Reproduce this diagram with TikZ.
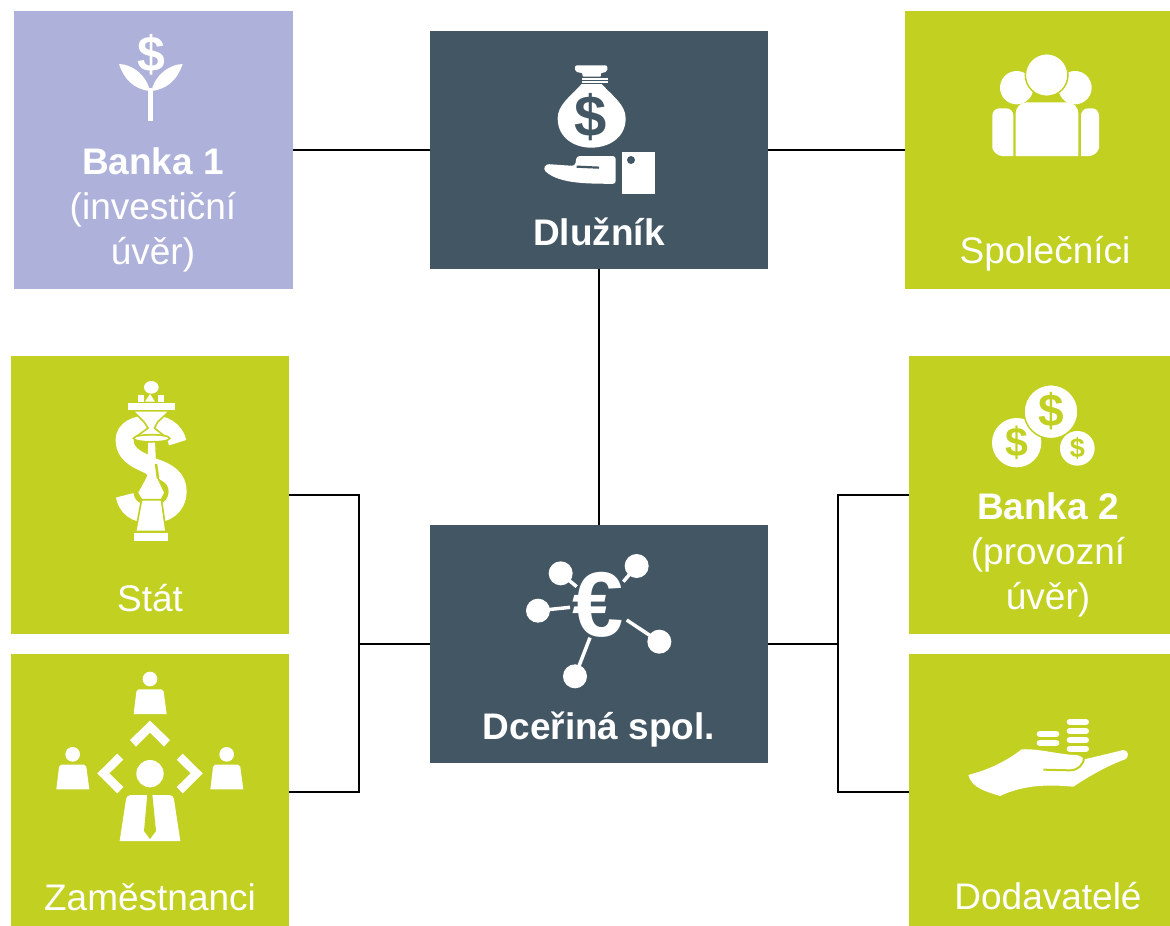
\documentclass[tikz,border=0pt]{standalone}
\usepackage{tikz}
\usepackage{xcolor}
\usepackage{fontspec}
\setmainfont{Liberation Sans}
\usetikzlibrary{positioning}
\definecolor{tilelime}{RGB}{193,208,33}
\definecolor{tiledark}{RGB}{67,86,99}
\definecolor{tilelav}{RGB}{174,177,218}

\begin{document}
\begin{tikzpicture}[x=1pt,y=-1pt]
      \tikzstyle{tile} = [rectangle, inner sep=0pt, minimum width=261pt, minimum height=278pt]
      \tikzstyle{centre} = [tile, fill=tiledark, minimum width=338pt, minimum height=238pt]
      \tikzstyle{lime} = [tile, fill=tilelime]
      \tikzstyle{caption} = [text=white, align=center, inner sep=0pt, font=\fontsize{37}{45}\selectfont]
      \tikzstyle{conn} = [draw=black, line width=1.2pt]
      \tikzstyle{sign} = [inner sep=0pt]
      \tikzstyle{chess} = [fill=white, preaction={draw=tilelime, line width=3.5pt}]

      \useasboundingbox (0,0) rectangle (1170,926);

      \node[tile, fill=tilelav, minimum width=279pt] (banka1) at (153.5,150) {};
      \node[centre] (dluznik) at (599,150) {};
      \node[lime, minimum width=265pt] (spolecnici) at (1037.5,150) {};
      \node[lime, minimum width=278pt] (stat) at (150,495) {};
      \node[lime, minimum width=278pt, minimum height=272pt] (zamestnanci) at (150,790) {};
      \node[centre] (dcerina) at (599,644) {};
      \node[lime] (banka2) at (1039.5,495) {};
      \node[lime, minimum height=272pt] (dodavatele) at (1039.5,790) {};

      \coordinate (jleft) at (359,644);
      \coordinate (jright) at (838,644);

      \draw[conn] (banka1) -- (dluznik);
      \draw[conn] (dluznik) -- (spolecnici);
      \draw[conn] (dluznik) -- (dcerina);
      \draw[conn] (stat) -| (jleft);
      \draw[conn] ([yshift=-2pt]zamestnanci.east) -| (jleft);
      \draw[conn] (jleft) -- (dcerina);
      \draw[conn] (banka2) -| (jright);
      \draw[conn] ([yshift=-2pt]dodavatele.west) -| (jright);
      \draw[conn] (jright) -- (dcerina);

      \node[caption] (tbanka1) at (153,210) {\textbf{Banka 1}\\(investiční\\úvěr)};
      \node[caption] (tdluznik) at (599,232) {\textbf{Dlužník}};
      \node[caption] (tspolecnici) at (1045,254) {Společníci};
      \node[caption] (tstat) at (150,598) {Stát};
      \node[caption] (tzamestnanci) at (150,897) {Zaměstnanci};
      \node[caption] (tdcerina) at (599,730) {\textbf{Dceřiná spol.}};
      \node[caption] (tbanka2) at (1048,555) {\textbf{Banka 2}\\(provozní\\úvěr)};
      \node[caption] (tdodavatele) at (1048,896) {Dodavatelé};

      \begin{scope}[shift={(10,10)},scale=1/3]
        \fill[white] (414,235) rectangle (430,332);
        \fill[white] (327,162) .. controls (365,163) and (408,192) .. (420,243) .. controls (372,238) and (342,208) .. (327,162);
        \fill[white] (518,162) .. controls (480,163) and (437,192) .. (424,243) .. controls (472,238) and (503,208) .. (518,162);
        \node[sign, text=white, font=\fontsize{50}{50}\bfseries\selectfont] (plantdollar) at (423,135) {\$};
      \end{scope}

      \begin{scope}[shift={(520,50)},scale=1/3]
        \fill[white, rounded corners=2pt] (165,46) -- (262,46) -- (262,65) -- (240,70) -- (245,80) -- (185,80) -- (190,70) -- (165,65) -- cycle;
        \fill[white] (185,84) rectangle (265,89);
        \fill[white] (185,93) rectangle (265,98);
        \fill[white] (185,102) .. controls (150,140) and (113,165) .. (113,205) .. controls (113,265) and (165,293) .. (213,293) .. controls (265,293) and (317,265) .. (317,205) .. controls (317,165) and (280,140) .. (245,102) -- cycle;
        \node[sign, text=tiledark, font=\fontsize{58}{58}\bfseries\selectfont] (bagdollar) at (213,200) {\$};
        \fill[white, rounded corners=3pt] (170,318) -- (287,318) -- (287,402) .. controls (220,400) and (120,405) .. (70,358) -- (78,342) -- (165,348) -- cycle;
        \draw[tiledark, line width=2.2pt] (170,350) -- (237,353);
        \fill[white] (306,307) rectangle (406,432);
        \fill[tiledark] (333,330) circle (12);
      \end{scope}

      \begin{scope}[shift={(980,40)},scale=1/3]
        \fill[white] (37,325) [rounded corners=7pt] -- (37,205) -- (100,205) [sharp corners] -- (100,348) -- (65,348) .. controls (52,346) and (42,338) .. (37,325);
        \fill[white] (303,348) [rounded corners=7pt] -- (303,205) -- (357,205) [sharp corners] -- (357,325) .. controls (352,338) and (342,346) .. (330,348) -- cycle;
        \fill[white] (110,143) circle (50);
        \fill[white] (285,143) circle (50);
        \fill[white, draw=tilelime, line width=1.5pt] (200,105) circle (64);
        \fill[white] (107,348) [rounded corners=11pt] -- (107,187) -- (295,187) [sharp corners] -- (295,348) -- cycle;
      \end{scope}

      \begin{scope}[shift={(90,370)},scale=1/3]
        \draw[white, line width=18pt] (263,218) .. controls (255,180) and (220,162) .. (185,162) .. controls (135,162) and (104,180) .. (104,210) .. controls (104,265) and (165,275) .. (185,290) .. controls (235,305) and (263,325) .. (263,365) .. controls (263,410) and (225,433) .. (185,433) .. controls (135,433) and (110,410) .. (104,376);
        \path[chess] (145,368) -- (170,322) -- (200,322) -- (222,368) -- (212,388) -- (157,388) -- cycle;
        \fill[white] (175,215) -- (195,215) -- (200,325) -- (170,325) -- cycle;
        \draw[tilelime, line width=2.5pt] (198,282) -- (204,325);
        \path[chess] (157,392) -- (212,392) -- (225,482) -- (140,482) -- cycle;
        \fill[white] (132,490) rectangle (233,512);
        \path[chess] (135,125) -- (232,125) -- (200,155) -- (190,175) -- (215,195) -- (150,195) -- (178,175) -- (165,155) -- cycle;
        \path[chess] (185,205) ellipse (50 and 8);
        \fill[white] (114,100) rectangle (255,119);
        \fill[white] (145,75) rectangle (163,95);
        \fill[white] (204,75) rectangle (222,95);
        \fill[white] (165,95) -- (180,72) -- (195,95) -- cycle;
        \fill[white] (184,52) ellipse (22 and 19);
      \end{scope}

      \begin{scope}[shift={(40,660)},scale=1/3]
        \foreach \hx/\hy in {330/57,98/283,560/283} {
          \fill[white] (\hx,\hy) circle (22);
          \fill[white] ({\hx-49},{\hy+105}) [rounded corners=2pt] -- ({\hx-40},{\hy+31}) -- ({\hx+40},{\hy+31}) [sharp corners] -- ({\hx+50},{\hy+105}) -- cycle;
        }
        \fill[white] (270,240) -- (330,182) -- (390,240) -- (372,260) -- (330,218) -- (288,260) -- cycle;
        \fill[white] (172,340) -- (232,281) -- (250,299) -- (208,340) -- (250,381) -- (232,400) -- cycle;
        \fill[white] (488,340) -- (428,281) -- (410,299) -- (452,340) -- (410,381) -- (428,400) -- cycle;
        \fill[white] (330,341) circle (41);
        \fill[white] (239,543) [rounded corners=4pt] -- (260,405) -- (400,405) [sharp corners] -- (421,543) -- cycle;
        \fill[tilelime] (322,403) -- (337,403) -- (348,513) -- (330,537) -- (312,513) -- cycle;
      \end{scope}

      \begin{scope}[shift={(515,545)},scale=1/3]
        \foreach \cx/\cy/\ex/\ey in {137/85/185/125,365/63/325/110,69/197/165/187,433/290/335/225,180/394/225/278} {
          \fill[white] (\cx,\cy) circle (36);
          \draw[white, line width=3.5pt] (\cx,\cy) -- (\ex,\ey);
        }
        \node[sign, text=white, font=\fontsize{92}{92}\bfseries\selectfont] (euro) at (250,180) {€};
      \end{scope}

      \begin{scope}[shift={(980,375)},scale=1/3]
        \fill[white] (110,203) circle (74);
        \fill[white, draw=tilelime, line width=1.5pt] (213,110) circle (81);
        \fill[white] (292,220) circle (52);
        \node[sign, text=tilelime, font=\fontsize{46}{46}\bfseries\selectfont] (coinbig) at (213,108) {\$};
        \node[sign, text=tilelime, font=\fontsize{41}{41}\bfseries\selectfont] (coinleft) at (110,202) {\$};
        \node[sign, text=tilelime, font=\fontsize{27}{27}\bfseries\selectfont] (coinsmall) at (292,220) {\$};
      \end{scope}

      \begin{scope}[shift={(960,710)},scale=1/3]
        \foreach \sy in {36,63,90,116} {
          \draw[white, line width=6pt, line cap=round] (329,\sy) -- (378,\sy);
        }
        \foreach \sy in {72,99} {
          \draw[white, line width=6pt, line cap=round] (239,\sy) -- (289,\sy);
        }
        \fill[white] (25,195) .. controls (80,180) and (130,160) .. (185,118) .. controls (240,115) and (300,135) .. (350,135) .. controls (365,137) and (368,148) .. (378,147) -- (490,120) .. controls (507,120) and (510,145) .. (490,150) .. controls (450,165) and (400,190) .. (340,230) .. controls (280,225) and (200,220) .. (120,258) .. controls (80,245) and (35,235) .. (25,195);
        \draw[tilelime, line width=2pt] (372,143) .. controls (370,165) and (355,180) .. (330,181) -- (250,179);
      \end{scope}
    \end{tikzpicture}
\end{document}
